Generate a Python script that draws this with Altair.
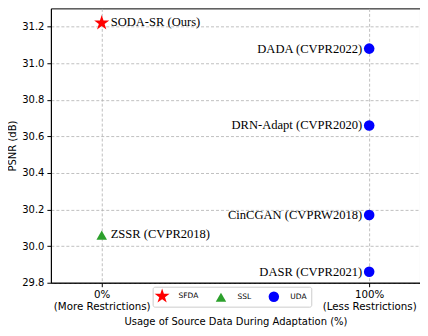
import altair as alt
import pandas as pd

methods = ["SODA-SR (Ours)", "ZSSR (CVPR2018)", "DADA (CVPR2022)", "DRN-Adapt (CVPR2020)", "CinCGAN (CVPRW2018)", "DASR (CVPR2021)"]
usage = [0, 0, 100, 100, 100, 100]
psnr = [31.22, 30.06, 31.08, 30.66, 30.17, 29.86]
types = ["SFDA", "SSL", "UDA", "UDA", "UDA", "UDA"]
type_order = ["SFDA", "SSL", "UDA"]
type_colors = ["#ff0000", "#2ca02c", "#0000ff"]
x_ticks = [0, 100]
x_tick_labels = [["0%", "(More Restrictions)"], ["100%", "(Less Restrictions)"]]
y_ticks = [29.8, 30.0, 30.2, 30.4, 30.6, 30.8, 31.0, 31.2]

# five-pointed star, drawn 1.5x larger than the unit box so it matches the other symbols
STAR = ("M0,-1.5L0.337,-0.464L1.427,-0.464L0.545,0.177L0.882,1.214L0,0.573"
        "L-0.882,1.214L-0.545,0.177L-1.427,-0.464L-0.337,-0.464Z")

df = pd.DataFrame({"method": methods, "usage": usage, "psnr": psnr, "type": types})
df["side"] = ["left" if u == 0 else "right" for u in usage]

label_expr = " : ".join(
    [f"datum.value == {v} ? {lab!r}" for v, lab in zip(x_ticks, x_tick_labels)] + ["''"]
)

x_scale = alt.Scale(domain=[-19, 119], nice=False, zero=False)
y_scale = alt.Scale(domain=[29.8, 31.3], nice=False, zero=False)

x_enc = alt.X("usage:Q", scale=x_scale,
              axis=alt.Axis(values=x_ticks, labelExpr=label_expr, tickCount=10,
                            title="Usage of Source Data During Adaptation (%)",
                            titlePadding=4, labelPadding=3, labelOverlap=False,
                            labelFontSize=10.3))
y_enc = alt.Y("psnr:Q", scale=y_scale,
              axis=alt.Axis(values=y_ticks, format=".1f", title="PSNR (dB)", tickCount=20,
                            titlePadding=4, labelPadding=3, labelOverlap=False))

base = alt.Chart(df)

points = base.mark_point(filled=True, opacity=1, size=112).encode(
    x=x_enc, y=y_enc,
    color=alt.Color("type:N", scale=alt.Scale(domain=type_order, range=type_colors),
                    legend=alt.Legend(title=None, orient="none", direction="horizontal",
                                      legendX=102, legendY=279,
                                      strokeColor="#cccccc", fillColor="white",
                                      padding=4, cornerRadius=2,
                                      symbolSize=110, labelFontSize=7.5,
                                      labelFont="DejaVu Sans", labelColor="black",
                                      columnPadding=17, labelOffset=11,
                                      symbolStrokeWidth=0)),
    shape=alt.Shape("type:N", scale=alt.Scale(domain=type_order, range=[STAR, "triangle-up", "circle"])),
)

text_left = base.transform_filter("datum.side == 'left'").mark_text(
    align="left", baseline="middle", dx=9, dy=-1, font="Liberation Serif", fontSize=12.6, color="black"
).encode(x=alt.X("usage:Q", scale=x_scale), y=alt.Y("psnr:Q", scale=y_scale), text="method:N")

text_right = base.transform_filter("datum.side == 'right'").mark_text(
    align="right", baseline="middle", dx=-7, font="Liberation Serif", fontSize=12.6, color="black"
).encode(x=alt.X("usage:Q", scale=x_scale), y=alt.Y("psnr:Q", scale=y_scale), text="method:N")

chart = alt.layer(points, text_left, text_right).properties(
    width=370, height=275,
    autosize=alt.AutoSizeParams(type="none"),
    padding={"left": 43, "top": 0, "right": 0, "bottom": 45},
).configure_view(stroke="black", strokeWidth=1).configure_axis(
    labelFont="DejaVu Sans", titleFont="DejaVu Sans", labelFontSize=10, titleFontSize=10,
    labelColor="black", titleColor="black", titleFontWeight="normal",
    domainColor="black", tickColor="black", tickSize=4,
    gridColor="#b0b0b0", gridDash=[3, 2], gridWidth=0.8,
)

chart.save("out.html", embed_options={"renderer": "svg", "actions": False})
